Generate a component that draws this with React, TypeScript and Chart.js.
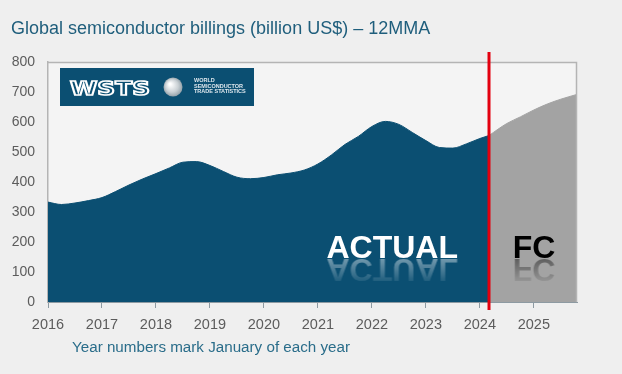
import { useEffect, useRef } from 'react';
import { Chart, registerables } from 'chart.js';

Chart.register(...registerables);

const TITLE = 'Global semiconductor billings (billion US$) – 12MMA';
const SUBTITLE = 'Year numbers mark January of each year';
const ACTUAL_LABEL = 'ACTUAL';
const FC_LABEL = 'FC';

const yearTicks = [2016, 2017, 2018, 2019, 2020, 2021, 2022, 2023, 2024, 2025];
const yMin = 0;
const yMax = 800;
const yStep = 100;
const xMin = 2016;
const xMax = 2025.8;
const forecastStart = 2024.17;

const actualYears = [
  2016.0, 2016.25, 2016.5, 2016.75, 2017.0, 2017.25, 2017.5, 2017.75,
  2018.0, 2018.25, 2018.5, 2018.75, 2019.0, 2019.25, 2019.5, 2019.75,
  2020.0, 2020.25, 2020.5, 2020.75, 2021.0, 2021.25, 2021.5, 2021.75,
  2022.0, 2022.25, 2022.5, 2022.75, 2023.0, 2023.25, 2023.5, 2023.75,
  2024.0, 2024.17,
];
const actualValues = [
  333, 325, 330, 338, 348, 368, 390, 410,
  428, 447, 466, 468, 455, 435, 416, 411,
  415, 424, 430, 440, 460, 490, 525, 552,
  585, 602, 592, 565, 538, 515, 513, 527,
  545, 555,
];
const forecastYears = [2024.17, 2024.5, 2024.75, 2025.0, 2025.25, 2025.5, 2025.8];
const forecastValues = [555, 595, 617, 640, 660, 676, 692];

const FONT = '"Liberation Sans", Arial, sans-serif';

function drawReflectedText(
  ctx: CanvasRenderingContext2D,
  text: string,
  x: number,
  baseline: number,
  font: string,
  color: string,
  alpha: number,
  reflHeight: number,
) {
  ctx.save();
  ctx.font = font;
  ctx.fillStyle = color;
  ctx.textAlign = 'left';
  ctx.textBaseline = 'alphabetic';
  const w = Math.ceil(ctx.measureText(text).width) + 6;
  const off = document.createElement('canvas');
  off.width = w;
  off.height = reflHeight;
  const o = off.getContext('2d')!;
  o.font = font;
  o.fillStyle = color;
  o.textBaseline = 'alphabetic';
  o.save();
  o.scale(1, -1);
  o.fillText(text, 3, 0);
  o.restore();
  o.globalCompositeOperation = 'destination-in';
  const g = o.createLinearGradient(0, 0, 0, reflHeight);
  g.addColorStop(0, `rgba(0,0,0,${alpha})`);
  g.addColorStop(1, 'rgba(0,0,0,0)');
  o.fillStyle = g;
  o.fillRect(0, 0, w, reflHeight);
  ctx.drawImage(off, x - 3, baseline + 1);
  ctx.fillText(text, x, baseline);
  ctx.restore();
}

const decorPlugin = {
  id: 'decor',
  beforeDraw(chart: any) {
    const { ctx, chartArea: a, width, height } = chart;
    ctx.save();
    ctx.fillStyle = '#efefef';
    ctx.fillRect(0, 0, width, height);
    ctx.fillStyle = '#f4f4f4';
    ctx.fillRect(a.left, a.top, a.right - a.left, a.bottom - a.top);
    ctx.restore();
  },
  afterDatasetsDraw(chart: any) {
    const { ctx, chartArea: a } = chart;
    const xs = chart.scales.x;
    ctx.save();
    ctx.strokeStyle = '#b4b4b4';
    ctx.lineWidth = 1.5;
    ctx.beginPath();
    ctx.moveTo(a.left, a.top + 0.5);
    ctx.lineTo(a.right - 0.5, a.top + 0.5);
    ctx.lineTo(a.right - 0.5, a.bottom);
    ctx.stroke();

    const rx = xs.getPixelForValue(forecastStart);
    ctx.strokeStyle = '#e3000f';
    ctx.lineWidth = 3;
    ctx.beginPath();
    ctx.moveTo(rx, a.top - 10);
    ctx.lineTo(rx, a.bottom + 8);
    ctx.stroke();

    const bigFont = `bold 32px ${FONT}`;
    ctx.font = bigFont;
    const aw = ctx.measureText(ACTUAL_LABEL).width;
    drawReflectedText(ctx, ACTUAL_LABEL, rx - 31 - aw, a.bottom - 44, bigFont, '#ffffff', 0.42, 28);
    const fw = ctx.measureText(FC_LABEL).width;
    const fcx = (rx + a.right) / 2 - fw / 2 + 1;
    drawReflectedText(ctx, FC_LABEL, fcx, a.bottom - 44, bigFont, '#000000', 0.42, 28);

    const lx = a.left + 12;
    const ly = a.top + 6;
    ctx.fillStyle = '#0b4f72';
    ctx.fillRect(lx, ly, 194, 38);
    ctx.save();
    ctx.font = `bold 18px "DejaVu Sans", sans-serif`;
    const ww = ctx.measureText('WSTS').width;
    ctx.translate(lx + 10, ly + 27);
    ctx.scale(80 / ww, 1.05);
    ctx.strokeStyle = '#ffffff';
    ctx.lineWidth = 1.6;
    ctx.strokeText('WSTS', 0, 0);
    ctx.restore();
    const gx = lx + 113;
    const gy = ly + 19;
    const rg = ctx.createRadialGradient(gx - 3, gy - 3, 1, gx, gy, 10);
    rg.addColorStop(0, '#ffffff');
    rg.addColorStop(0.6, '#c9d0d4');
    rg.addColorStop(1, '#8e9ca4');
    ctx.fillStyle = rg;
    ctx.beginPath();
    ctx.arc(gx, gy, 9.5, 0, Math.PI * 2);
    ctx.fill();
    ctx.fillStyle = '#dfe8ee';
    ctx.font = `bold 5.5px ${FONT}`;
    ctx.textBaseline = 'alphabetic';
    ctx.fillText('WORLD', lx + 134, ly + 14);
    ctx.fillText('SEMICONDUCTOR', lx + 134, ly + 19.5);
    ctx.fillText('TRADE STATISTICS', lx + 134, ly + 25);
    ctx.restore();
  },
  afterDraw(chart: any) {
    const { ctx } = chart;
    ctx.save();
    ctx.textAlign = 'left';
    ctx.textBaseline = 'alphabetic';
    ctx.fillStyle = '#1f5e7c';
    ctx.font = `18px ${FONT}`;
    ctx.fillText(TITLE, 11, 34);
    ctx.fillStyle = '#2a6d8a';
    ctx.font = `15.2px ${FONT}`;
    ctx.fillText(SUBTITLE, 72, 352);
    ctx.restore();
  },
};

export default function App() {
  const ref = useRef<HTMLCanvasElement | null>(null);
  useEffect(() => {
    if (!ref.current) return;
    const chart = new Chart(ref.current, {
      type: 'line',
      data: {
        datasets: [
          {
            label: 'Actual',
            data: actualYears.map((x, i) => ({ x, y: actualValues[i] })),
            backgroundColor: '#0b4f72',
            borderColor: '#0b4f72',
            borderWidth: 1,
            fill: 'origin',
            pointRadius: 0,
            cubicInterpolationMode: 'monotone',
          },
          {
            label: 'Forecast',
            data: forecastYears.map((x, i) => ({ x, y: forecastValues[i] })),
            backgroundColor: '#a3a3a3',
            borderColor: '#a3a3a3',
            borderWidth: 1,
            fill: 'origin',
            pointRadius: 0,
            cubicInterpolationMode: 'monotone',
          },
        ],
      },
      options: {
        responsive: false,
        animation: false,
        layout: { padding: { top: 62, right: 45, left: 0, bottom: 0 } },
        plugins: { legend: { display: false }, tooltip: { enabled: false }, title: { display: false } },
        scales: {
          x: {
            type: 'linear',
            min: xMin,
            max: xMax,
            afterBuildTicks: (s: any) => {
              s.ticks = yearTicks.map((v) => ({ value: v }));
            },
            afterFit: (s: any) => {
              s.height = 72;
            },
            grid: { display: true, drawOnChartArea: false, drawTicks: true, tickLength: 6, color: '#8d9aa2' },
            border: { display: true, color: '#8d9aa2', width: 1 },
            ticks: {
              color: '#5c5c5c',
              font: { family: FONT, size: 14.5 },
              padding: 8,
              maxRotation: 0,
              autoSkip: false,
              callback: (v: any) => String(v),
            },
          },
          y: {
            min: yMin,
            max: yMax,
            afterFit: (s: any) => {
              s.width = 48;
            },
            grid: { display: false, drawTicks: false },
            border: { display: true, color: '#b4b4b4', width: 1.5 },
            ticks: {
              stepSize: yStep,
              color: '#5c5c5c',
              font: { family: FONT, size: 14 },
              padding: 13,
            },
          },
        },
      },
      plugins: [decorPlugin],
    } as any);
    return () => chart.destroy();
  }, []);
  return (
    <div style={{ position: 'fixed', left: 0, top: 0, width: 622, height: 374 }}>
      <canvas ref={ref} width={622} height={374} style={{ display: 'block', width: 622, height: 374 }} />
    </div>
  );
}
